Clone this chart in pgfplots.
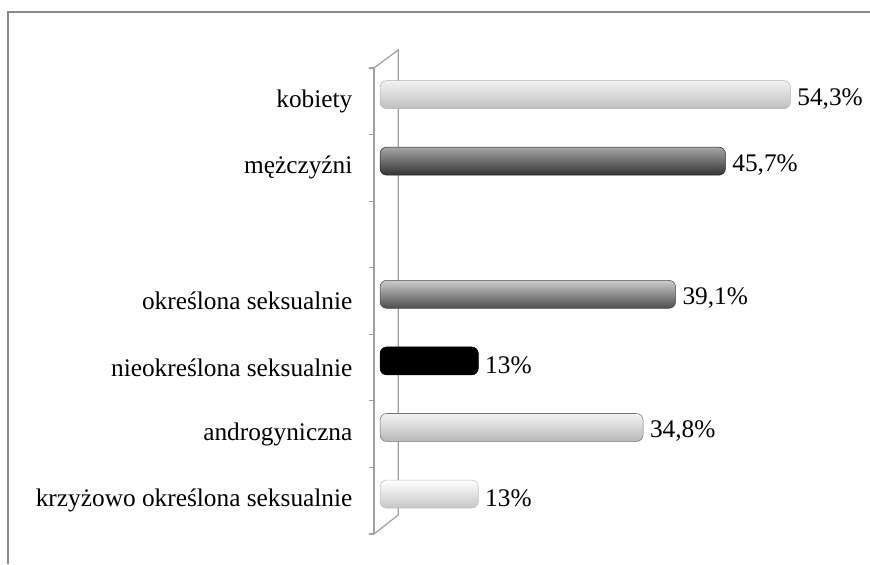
\documentclass[border=0pt]{standalone}
\usepackage{fontspec}
\setmainfont{Liberation Serif}
\usepackage{pgfplots}
\pgfplotsset{compat=1.18}
\definecolor{framegray}{HTML}{8A8A8A}
\definecolor{axgray}{HTML}{A0A0A0}
\begin{document}
\begin{tikzpicture}
\path[use as bounding box] (-280.5pt,-22.5pt) rectangle (372pt,400.5pt);
\draw[framegray, line width=1.5pt] (-274.5pt,-22.5pt) -- (-274.5pt,391.5pt) -- (372pt,391.5pt);
\begin{axis}[
  at={(0,0)}, anchor=south west,
  scale only axis, width=364.5pt, height=349.5pt,
  xmin=-0.8, xmax=63.5, ymin=-0.5, ymax=6.5,
  clip=false,
  axis x line=none, axis y line*=left,
  y axis line style={draw=axgray, line width=0.9pt},
  ytick={0,...,6},
  yticklabels={krzyżowo określona seksualnie, androgyniczna, nieokreślona seksualnie, określona seksualnie, {}, mężczyźni, kobiety},
  minor ytick={-0.5,0.5,...,6.5},
  major tick length=0pt, minor tick length=4pt,
  tick align=outside,
  minor tick style={draw=axgray, line width=0.9pt},
  y tick label style={font=\fontsize{19}{22}\selectfont, inner sep=0pt, xshift=-16pt},
  every node near coord/.append style={font=\fontsize{19}{22}\selectfont, text=black, anchor=west, inner sep=5pt, yshift=-3pt},
  xbar, bar width=0.42, bar shift=0.1,
]
\draw[axgray, line width=0.9pt] (axis cs:-0.8,6.5) -- (axis cs:2.4,6.77) -- (axis cs:2.4,-0.215) -- (axis cs:-0.8,-0.5);
% kobiety
\addplot[draw=gray!60, top color=gray!10, middle color=white, bottom color=gray!50, rounded corners=5pt, nodes near coords={54,3\%}] coordinates {(54.3,6)};
% mezczyzni
\addplot[draw=black!85, top color=gray!70, middle color=black!55, bottom color=black!80, rounded corners=5pt, nodes near coords={45,7\%}] coordinates {(45.7,5)};
% okreslona
\addplot[draw=black!70, top color=gray!40, middle color=gray!55, bottom color=black!70, rounded corners=5pt, nodes near coords={39,1\%}] coordinates {(39.1,3)};
% nieokreslona
\addplot[draw=black, fill=black, rounded corners=5pt, nodes near coords={13\%}] coordinates {(13,2)};
% androgyniczna
\addplot[draw=black!55, top color=gray!10, middle color=gray!8, bottom color=gray!55, rounded corners=5pt, nodes near coords={34,8\%}] coordinates {(34.8,1)};
% krzyzowo
\addplot[draw=gray!50, top color=white, middle color=gray!5, bottom color=gray!45, rounded corners=5pt, nodes near coords={13\%}] coordinates {(13,0)};
\end{axis}
\end{tikzpicture}
\end{document}
